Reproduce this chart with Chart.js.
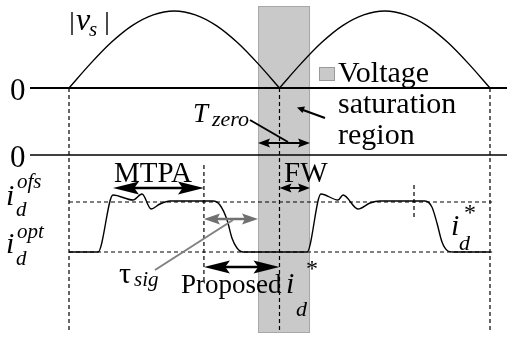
<!DOCTYPE html>
<html><head><meta charset="utf-8">
<script src="https://cdn.jsdelivr.net/npm/chart.js@4/dist/chart.umd.min.js"></script>
<style>html,body{margin:0;padding:0;background:#fff;overflow:hidden}canvas{display:block}
.fl{position:absolute;left:-999px;top:0;font-family:"Liberation Serif";font-size:20px}
.fl i{font-style:italic}</style>
</head><body>
<div class="fl">Abc <i>abc</i></div>
<canvas id="c" width="507" height="338"></canvas>
<script>
// Time axis: in half-periods of the voltage (zero crossings at t = 0, 1, 2)
const arch1T = [0, 0.1, 0.2, 0.3, 0.4, 0.5, 0.6, 0.7, 0.8, 0.9, 1.0];
const arch1V = [0, 0.31, 0.59, 0.81, 0.95, 1.0, 0.95, 0.81, 0.59, 0.31, 0];
const arch2T = [1.0, 1.1, 1.2, 1.3, 1.4, 1.5, 1.6, 1.7, 1.8, 1.9, 2.0];
const arch2V = [0, 0.31, 0.59, 0.81, 0.95, 1.0, 0.95, 0.81, 0.59, 0.31, 0];

// d-axis current reference i_d* (normalized, zero line = 0)
const idT = [0, 0.138, 0.209, 0.304, 0.347, 0.390, 0.432, 0.480, 0.684, 0.717, 0.751, 0.774, 0.798, 0.827,
             1.131, 1.197, 1.278, 1.302, 1.373, 1.430, 1.477, 1.691, 1.724, 1.748, 1.772, 1.800, 1.824, 2.0];
const idV = [-1.94, -1.94, -0.80, -0.90, -0.78, -1.08, -0.98, -0.92, -0.92, -1.00, -1.30, -1.66, -1.86, -1.94,
             -1.94, -0.78, -0.90, -0.80, -1.08, -0.96, -0.92, -0.92, -1.04, -1.36, -1.74, -1.92, -1.94, -1.94];

const ID_OFS = -0.94;   // i_d^ofs level
const ID_OPT = -1.94;   // i_d^opt level
const ZERO_CROSS = [0, 1, 2];
const SAT_REGION = [0.898, 1.145];
const MTPA_SPAN = [0.209, 0.641];
const TAU_SPAN = [0.641, 0.898];
const PROPOSED_SPAN = [0.641, 1.0];
const FW_SPAN = [1.0, 1.145];
const TZERO_SPAN = [0.898, 1.145];
const MARK_T = [0.641, 1.639];
const LEGEND_LINES = ['Voltage', 'saturation', 'region'];

const pts = (xs, ys) => xs.map((v, i) => ({x: v, y: ys[i]}));
const SERIF = '"Liberation Serif", "DejaVu Serif", serif';

function txt(ctx, s, x, y, size, ital, col) {
  ctx.font = (ital ? 'italic ' : 'normal ') + size + 'px ' + SERIF;
  ctx.fillStyle = col || '#000';
  ctx.textAlign = 'left'; ctx.textBaseline = 'alphabetic';
  ctx.fillText(s, x, y);
}
function head(ctx, tipX, y, dir, hl, hw) {
  ctx.beginPath();
  ctx.moveTo(tipX, y);
  ctx.lineTo(tipX + dir * hl, y - hw);
  ctx.lineTo(tipX + dir * hl * 0.82, y);
  ctx.lineTo(tipX + dir * hl, y + hw);
  ctx.closePath(); ctx.fill();
}
function dArrow(ctx, x1, x2, y, hl, hw, lw, col) {
  ctx.strokeStyle = col; ctx.fillStyle = col; ctx.lineWidth = lw;
  ctx.beginPath(); ctx.moveTo(x1 + hl * 0.5, y); ctx.lineTo(x2 - hl * 0.5, y); ctx.stroke();
  head(ctx, x1, y, 1, hl, hw);
  head(ctx, x2, y, -1, hl, hw);
}
function seg(ctx, x1, y1, x2, y2, lw, col, dash) {
  ctx.strokeStyle = col; ctx.lineWidth = lw; ctx.setLineDash(dash || []);
  ctx.beginPath(); ctx.moveTo(x1, y1); ctx.lineTo(x2, y2); ctx.stroke();
  ctx.setLineDash([]);
}

const annot = {
  id: 'annot',
  beforeDatasetsDraw(chart) {
    const {ctx, scales: {x, yV, yI}} = chart;
    ctx.save();
    const bx1 = x.getPixelForValue(SAT_REGION[0]), bx2 = x.getPixelForValue(SAT_REGION[1]);
    ctx.fillStyle = '#c9c9c9';
    ctx.fillRect(bx1, 6, bx2 - bx1, 327);
    ctx.strokeStyle = '#a8a8a8'; ctx.lineWidth = 1;
    ctx.strokeRect(bx1 + 0.5, 6.5, bx2 - bx1 - 1, 326);
    seg(ctx, 30, yV.getPixelForValue(0), 507, yV.getPixelForValue(0), 2, '#000');
    seg(ctx, 30, yI.getPixelForValue(0), 507, yI.getPixelForValue(0), 1.6, '#000');
    const xa = x.getPixelForValue(0), xb = x.getPixelForValue(2.01);
    seg(ctx, xa, yI.getPixelForValue(ID_OFS), xb, yI.getPixelForValue(ID_OFS), 1.2, '#000', [4, 3]);
    seg(ctx, xa, yI.getPixelForValue(ID_OPT), xb, yI.getPixelForValue(ID_OPT), 1.2, '#000', [4, 3]);
    ZERO_CROSS.forEach(t => {
      const px = x.getPixelForValue(t);
      seg(ctx, px, yV.getPixelForValue(0), px, 333, 1.2, '#000', [4, 3]);
    });
    const m0 = x.getPixelForValue(MARK_T[0]);
    seg(ctx, m0, 165, m0, 280, 1.2, '#000', [4, 3]);
    const m1 = x.getPixelForValue(MARK_T[1]);
    seg(ctx, m1, 185, m1, 220, 1.2, '#000', [4, 3]);
    ctx.restore();
  },
  afterDatasetsDraw(chart) {
    const {ctx, scales: {x}} = chart;
    const X = t => x.getPixelForValue(t);
    ctx.save();
    dArrow(ctx, X(MTPA_SPAN[0]), X(MTPA_SPAN[1]), 188, 26, 6.5, 2.5, '#000');
    dArrow(ctx, X(TAU_SPAN[0]), X(TAU_SPAN[1]), 219, 16, 5.5, 2.5, '#707070');
    dArrow(ctx, X(PROPOSED_SPAN[0]), X(PROPOSED_SPAN[1]), 267, 26, 6.5, 2.5, '#000');
    dArrow(ctx, X(FW_SPAN[0]), X(FW_SPAN[1]), 188, 12, 4.5, 2, '#000');
    dArrow(ctx, X(TZERO_SPAN[0]), X(TZERO_SPAN[1]), 143, 12, 4.5, 2, '#000');
    seg(ctx, 250, 120, 288, 142, 2, '#000');
    seg(ctx, 325, 118, 303, 110, 2.2, '#000');
    ctx.fillStyle = '#000';
    ctx.beginPath(); ctx.moveTo(297, 107.5); ctx.lineTo(305, 106.5); ctx.lineTo(302.5, 113); ctx.closePath(); ctx.fill();
    seg(ctx, 155, 270, 233, 220, 2, '#808080');
    seg(ctx, 72, 12, 72, 35, 1.4, '#000');
    seg(ctx, 107, 12, 107, 35, 1.4, '#000');
    txt(ctx, 'v', 76, 30, 32, true);
    txt(ctx, 's', 89, 36, 21, true);
    txt(ctx, '0', 10, 100, 31, false);
    txt(ctx, '0', 10, 167, 31, false);
    txt(ctx, 'i', 6, 205, 30, true);
    txt(ctx, 'd', 16, 216, 21, true);
    txt(ctx, 'ofs', 17, 188, 21, true);
    txt(ctx, 'i', 6, 253, 30, true);
    txt(ctx, 'd', 16, 265, 21, true);
    txt(ctx, 'opt', 17, 238, 21, true);
    txt(ctx, 'T', 193, 122, 27, true);
    txt(ctx, 'zero', 212, 126, 22, true);
    txt(ctx, 'MTPA', 114, 182, 29, false);
    txt(ctx, 'FW', 284, 182, 29, false);
    txt(ctx, '\u03C4', 119, 283, 30, false);
    txt(ctx, 'sig', 134, 286, 21, true);
    txt(ctx, 'Proposed', 181, 293, 27, false);
    txt(ctx, 'i', 286, 293, 30, true);
    txt(ctx, 'd', 296, 316, 22, true);
    txt(ctx, '*', 306, 276, 24, false);
    txt(ctx, 'i', 451, 235, 30, true);
    txt(ctx, 'd', 459, 250, 22, true);
    txt(ctx, '*', 464, 220, 24, false);
    ctx.fillStyle = '#c9c9c9'; ctx.fillRect(319, 67, 16, 14);
    ctx.strokeStyle = '#999'; ctx.lineWidth = 1; ctx.strokeRect(319.5, 67.5, 15, 13);
    txt(ctx, LEGEND_LINES[0], 338, 82, 30, false);
    txt(ctx, LEGEND_LINES[1], 338, 113, 30, false);
    txt(ctx, LEGEND_LINES[2], 338, 144, 30, false);
    ctx.restore();
  }
};

const PXU = 210.5, X0 = 69; // layout calibration
function build() {
  new Chart(document.getElementById('c'), {
    type: 'line',
    data: {
      datasets: [
        {data: pts(arch1T, arch1V), yAxisID: 'yV'},
        {data: pts(arch2T, arch2V), yAxisID: 'yV'},
        {data: pts(idT, idV), yAxisID: 'yI'}
      ].map(d => Object.assign(d, {borderColor: '#000', borderWidth: 1.4, pointRadius: 0,
        cubicInterpolationMode: 'monotone', fill: false}))
    },
    options: {
      responsive: false, devicePixelRatio: 1, animation: false, events: [],
      layout: {padding: 0},
      plugins: {legend: {display: false}, tooltip: {enabled: false}},
      scales: {
        x: {type: 'linear', display: false, min: -X0 / PXU, max: (507 - X0) / PXU},
        yV: {type: 'linear', display: false, min: -250 / 77, max: 88 / 77},
        yI: {type: 'linear', display: false, min: -183 / 50, max: 155 / 50}
      }
    },
    plugins: [annot]
  });
}
Promise.all([
  document.fonts.load('30px "Liberation Serif"'),
  document.fonts.load('italic 30px "Liberation Serif"')
]).then(build, build);
</script>
</body></html>
